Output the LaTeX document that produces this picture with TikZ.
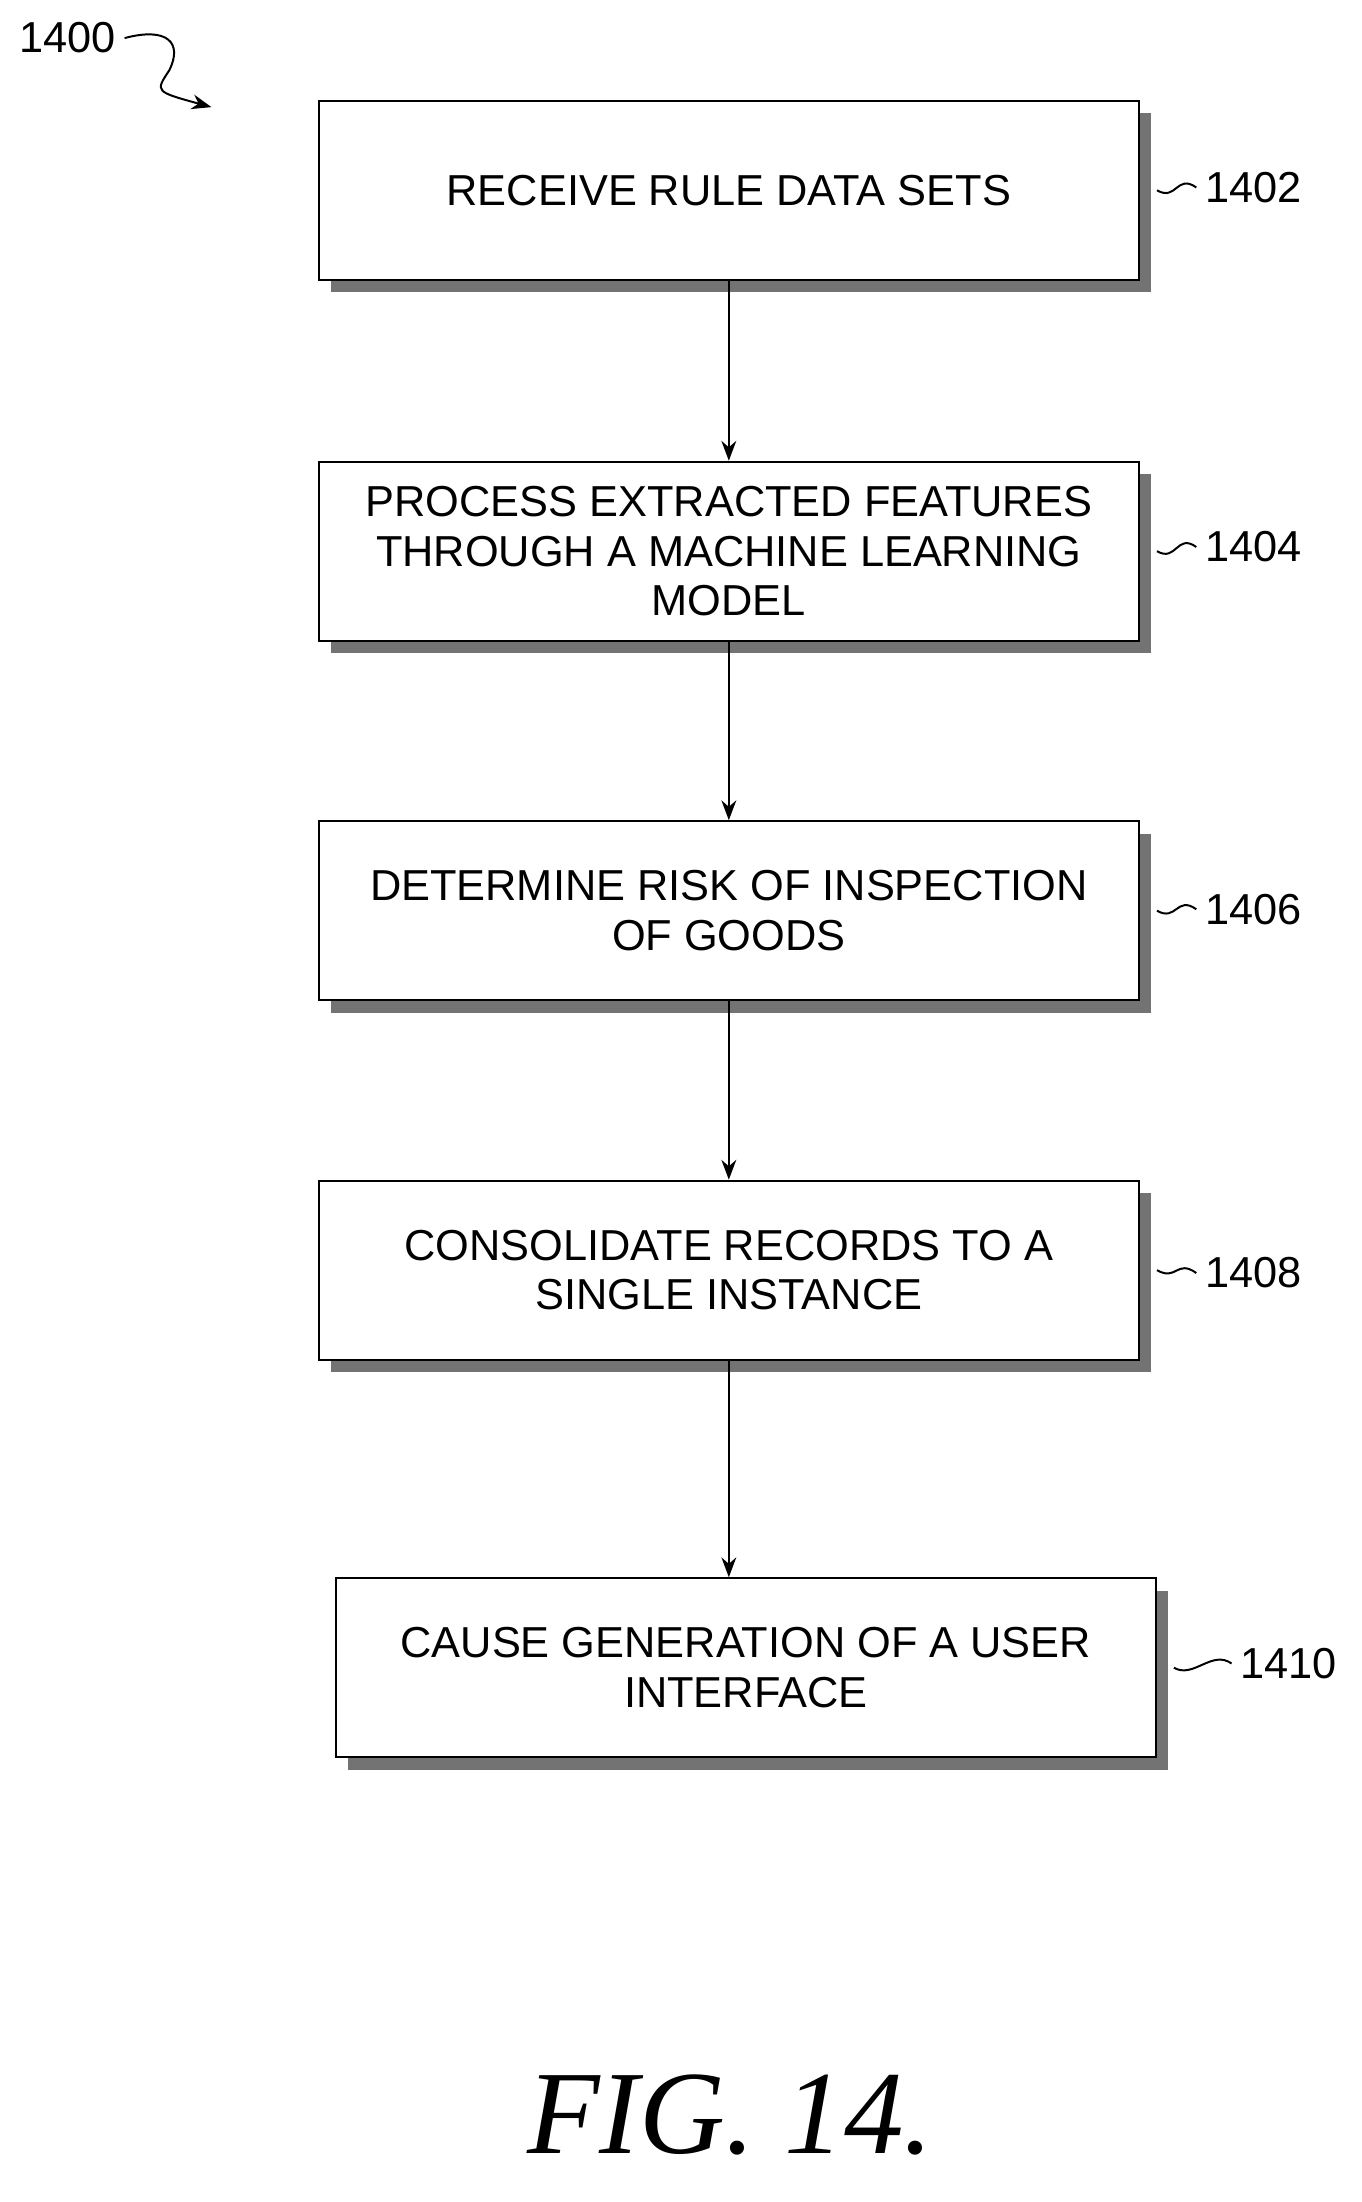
\documentclass[tikz,border=0pt]{standalone}
\usepackage{fontspec}
\setmainfont{Liberation Sans}
\newfontfamily\figfont{Liberation Serif}
\usetikzlibrary{positioning,arrows.meta}
\begin{document}
\begin{tikzpicture}[
		x=0.02cm, y=-0.02cm,
		>={Stealth[length=8pt,width=6pt]},
		stepbox/.style={
			draw, thick, fill=white, minimum width=582*0.02cm,
			minimum height=127*0.02cm, align=center, inner sep=2pt,
			font=\fontsize{17.5}{20}\selectfont,
			preaction={fill=black!55, transform canvas={shift={(5pt,-5pt)}}},
		},
		ref/.style={font=\fontsize{17.5}{20}\selectfont},
		wiggle/.style={thick},
	]
		\useasboundingbox (0,0) rectangle (966,1562);
		% steps
		\node[stepbox] (receive) at (517,135) {RECEIVE RULE DATA SETS};
		\node[stepbox] (process) at (517,391) {PROCESS EXTRACTED FEATURES\\THROUGH A MACHINE LEARNING\\MODEL};
		\node[stepbox] (risk) at (517,646) {DETERMINE RISK OF INSPECTION\\OF GOODS};
		\node[stepbox] (consolidate) at (517,901) {CONSOLIDATE RECORDS TO A\\SINGLE INSTANCE};
		\node[stepbox] (cause) at (529,1183) {CAUSE GENERATION OF A USER\\INTERFACE};
		% reference numbers
		\node[ref] (r1402) at (889,133) {1402};
		\node[ref] (r1404) at (889,388) {1404};
		\node[ref] (r1406) at (889,645) {1406};
		\node[ref] (r1408) at (889,903) {1408};
		\node[ref] (r1410) at (914,1180) {1410};
		\node[ref] (r1400) at (48,27) {1400};
		\coordinate (fig) at (150,76);
		% flow
		\draw[thick,->] (receive) -- (process);
		\draw[thick,->] (process) -- (risk);
		\draw[thick,->] (risk) -- (consolidate);
		\draw[thick,->] (consolidate.south) -- (consolidate.south |- cause.north);
		% leaders
		\foreach \r/\b in {r1402/receive,r1404/process,r1406/risk,r1408/consolidate,r1410/cause}
			\draw[wiggle] (\r.west) .. controls +(-14,-10) and +(14,8) .. ([xshift=12*0.02cm]\b.east);
		\draw[wiggle,->] (r1400.east) .. controls +(30,-8) and +(10,-20) .. (120,50) .. controls +(-10,15) .. (fig);
		\node[font=\figfont\itshape\fontsize{48}{52}\selectfont] (caption) at (518,1500) {FIG.\ 14.};
	\end{tikzpicture}
\end{document}
